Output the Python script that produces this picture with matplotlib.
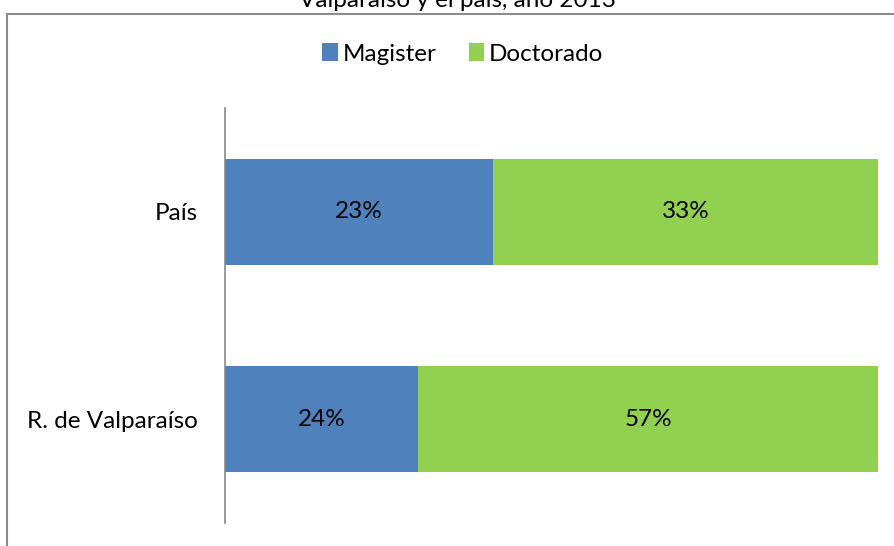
import matplotlib.pyplot as plt
from matplotlib.lines import Line2D
import numpy as np

plt.rcParams['font.family'] = ['Lato', 'DejaVu Sans']

# datos
categorias = ['R. de Valparaíso', 'País']
magister = [24, 23]
doctorado = [57, 33]
series = ['Magister', 'Doctorado']
colores = ['#4F81BD', '#92D050']
titulo = 'Valparaíso y el país, año 2013'

W, H = 894, 546
fs = 17.5
fig = plt.figure(figsize=(W / 100, H / 100), dpi=100)
ax = fig.add_axes([225 / W, 1 - 523 / H, (878 - 225) / W, (523 - 108) / H])

mag = np.array(magister, dtype=float)
doc = np.array(doctorado, dtype=float)
tot = mag + doc
mag_p = mag / tot
doc_p = doc / tot
y = np.arange(len(categorias))

b1 = ax.barh(y, mag_p, height=0.51, color=colores[0], label=series[0])
b2 = ax.barh(y, doc_p, left=mag_p, height=0.51, color=colores[1], label=series[1])

for i in range(len(categorias)):
    ax.text(mag_p[i] / 2, y[i], '%d%%' % magister[i], ha='center', va='center', fontsize=fs)
    ax.text(mag_p[i] + doc_p[i] / 2, y[i], '%d%%' % doctorado[i], ha='center', va='center', fontsize=fs)

ax.set_xlim(0, 1)
ax.set_ylim(-0.5, 1.5)
ax.set_yticks(y)
ax.set_yticklabels(categorias, fontsize=fs)
ax.tick_params(axis='y', length=0, pad=19.5)
ax.set_xticks([])
for s in ['top', 'right', 'bottom']:
    ax.spines[s].set_visible(False)
ax.spines['left'].set_color('#888888')
ax.spines['left'].set_linewidth(1.2)

leg = fig.legend(handles=[b1, b2], labels=series, loc='center', bbox_to_anchor=(463 / W, 1 - 54 / H),
                 ncol=2, frameon=False, fontsize=fs, handlelength=0.65, handleheight=0.75,
                 handletextpad=0.2, columnspacing=1.3)

# marco del grafico
fig.add_artist(Line2D([7 / W, 7 / W], [0, 1 - 14 / H], color='#8c8c8c', lw=1.5, transform=fig.transFigure))
fig.add_artist(Line2D([7 / W, 1], [1 - 14 / H, 1 - 14 / H], color='#8c8c8c', lw=1.5, transform=fig.transFigure))

fig.text(457 / W, 1 - 7 / H, titulo, ha='center', va='baseline', fontsize=fs)

fig.savefig('out.png', dpi=100)
